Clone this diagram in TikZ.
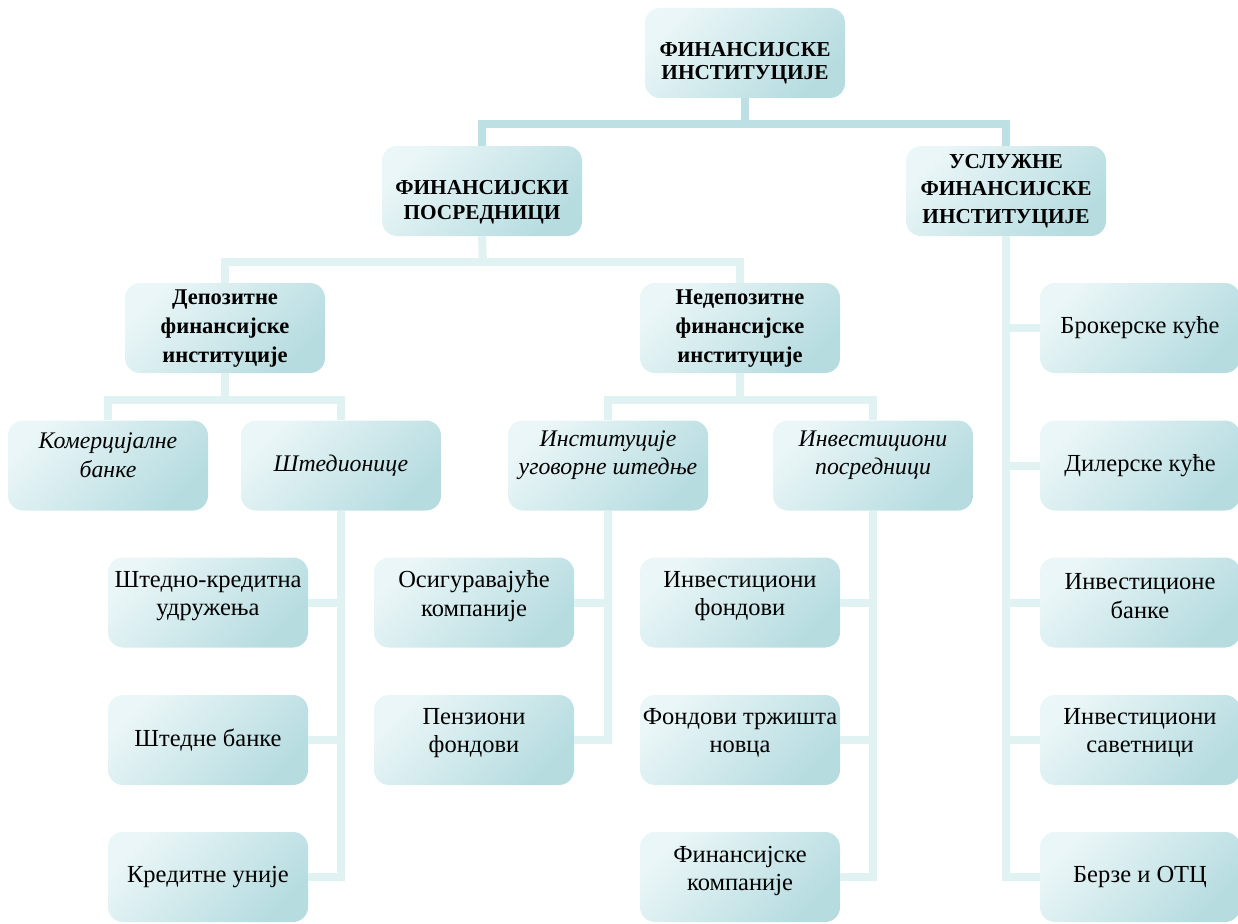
\documentclass[tikz,border=0pt]{standalone}
\usepackage{fontspec}
\setmainfont{Liberation Serif}
\definecolor{boxlight}{HTML}{EAF6F7}
\definecolor{boxdark}{HTML}{B6DCE0}
\definecolor{conndark}{HTML}{BDE0E4}
\definecolor{connlight}{HTML}{E1F2F3}
\tikzset{
  box/.style={rounded corners=15pt, minimum width=200pt, minimum height=90pt, inner sep=0pt,
    top color=boxlight, bottom color=boxdark, shading angle=45},
  txt/.style={inner sep=0pt, align=center, font=\fontsize{24.5}{28.5}\selectfont},
  capstxt/.style={inner sep=0pt, align=center, font=\fontsize{21.3}{#1}\selectfont\bfseries},
  btxt/.style={inner sep=0pt, align=center, font=\fontsize{22.5}{29}\selectfont\bfseries},
  itxt/.style={inner sep=0pt, align=center, font=\fontsize{23.8}{28.5}\selectfont\itshape},
  conna/.style={draw=conndark, line width=8pt, line join=miter},
  connb/.style={draw=connlight, line width=8pt, line join=miter},
}
\begin{document}
\begin{tikzpicture}[x=1pt,y=-1pt]
\useasboundingbox (0,0) rectangle (1238,923);
% boxes
\node[box] (top) at (745,53) {};
\node[box] (fp) at (482,191) {};
\node[box] (ufi) at (1006,191) {};
\node[box] (dep) at (225,328) {};
\node[box] (nedep) at (740,328) {};
\node[box] (kom) at (108,465.5) {};
\node[box] (sted) at (341,465.5) {};
\node[box] (ins) at (608,465.5) {};
\node[box] (inv) at (873,465.5) {};
\node[box] (sk) at (208,602.5) {};
\node[box] (sb) at (208,740) {};
\node[box] (kre) at (208,877) {};
\node[box] (osi) at (474,602.5) {};
\node[box] (pen) at (474,740) {};
\node[box] (ifo) at (740,602.5) {};
\node[box] (ftn) at (740,740) {};
\node[box] (fin) at (740,877) {};
\node[box] (bk) at (1140,328) {};
\node[box] (dk) at (1140,465.5) {};
\node[box] (ib) at (1140,602.5) {};
\node[box] (is) at (1140,740) {};
\node[box] (bz) at (1140,877) {};
% texts
\node[capstxt=23.5] (topt) at (745,63) {ФИНАНСИЈСКЕ\\ИНСТИТУЦИЈЕ};
\node[capstxt=25] (fpt) at (482,202) {ФИНАНСИЈСКИ\\ПОСРЕДНИЦИ};
\node[capstxt=27.5] (ufit) at (1006,191) {УСЛУЖНЕ\\ФИНАНСИЈСКЕ\\ИНСТИТУЦИЈЕ};
\node[btxt] (dept) at (225,329) {Депозитне\\финансијске\\институције};
\node[btxt] (nedept) at (740,329) {Недепозитне\\финансијске\\институције};
\node[itxt] (komt) at (108,455) {Комерцијалне\\банке};
\node[itxt] (stedt) at (341,465.5) {Штедионице};
\node[itxt] (inst) at (608,455) {Институције\\уговорне штедње};
\node[itxt] (invt) at (873,455) {Инвестициони\\посредници};
\node[txt] (skt) at (208,596) {Штедно-кредитна\\удружења};
\node[txt] (sbt) at (208,740) {Штедне банке};
\node[txt] (kret) at (208,877) {Кредитне уније};
\node[txt] (osit) at (474,596) {Осигуравајуће\\компаније};
\node[txt] (pent) at (474,733) {Пензиони\\фондови};
\node[txt] (ifot) at (740,596) {Инвестициони\\фондови};
\node[txt] (ftnt) at (740,733) {Фондови тржишта\\новца};
\node[txt] (fint) at (740,871) {Финансијске\\компаније};
\node[txt] (bkt) at (1140,328) {Брокерске куће};
\node[txt] (dkt) at (1140,465.5) {Дилерске куће};
\node[txt] (ibt) at (1140,596) {Инвестиционе\\банке};
\node[txt] (ist) at (1140,733) {Инвестициони\\саветници};
\node[txt] (bzt) at (1140,877) {Берзе и ОТЦ};
% buses
\coordinate (bus1) at (745,124);
\coordinate (bus2) at (483,262);
\coordinate (bus3a) at (225,400);
\coordinate (bus3b) at (740,400);
% connectors
\draw[conna] (top.south) -- (bus1);
\draw[conna] (fp.north) -- (fp.north |- bus1) -- (ufi.north |- bus1) -- (ufi.north);
\draw[connb] (fp.south) -- (bus2);
\draw[connb] (dep.north) -- (dep.north |- bus2) -- (nedep.north |- bus2) -- (nedep.north);
\draw[connb] (dep.south) -- (bus3a);
\draw[connb] (kom.north) -- (kom.north |- bus3a) -- (sted.north |- bus3a) -- (sted.north);
\draw[connb] (nedep.south) -- (bus3b);
\draw[connb] (ins.north) -- (ins.north |- bus3b) -- (inv.north |- bus3b) -- (inv.north);
\draw[connb] (sted.south) |- (kre.east);
\draw[connb] (sk.east) -- (sk.east -| sted.south);
\draw[connb] (sb.east) -- (sb.east -| sted.south);
\draw[connb] (ins.south) |- (pen.east);
\draw[connb] (osi.east) -- (osi.east -| ins.south);
\draw[connb] (inv.south) |- (fin.east);
\draw[connb] (ifo.east) -- (ifo.east -| inv.south);
\draw[connb] (ftn.east) -- (ftn.east -| inv.south);
\draw[connb] (ufi.south) |- (bz.west);
\draw[connb] (bk.west) -- (bk.west -| ufi.south);
\draw[connb] (dk.west) -- (dk.west -| ufi.south);
\draw[connb] (ib.west) -- (ib.west -| ufi.south);
\draw[connb] (is.west) -- (is.west -| ufi.south);
\end{tikzpicture}
\end{document}
